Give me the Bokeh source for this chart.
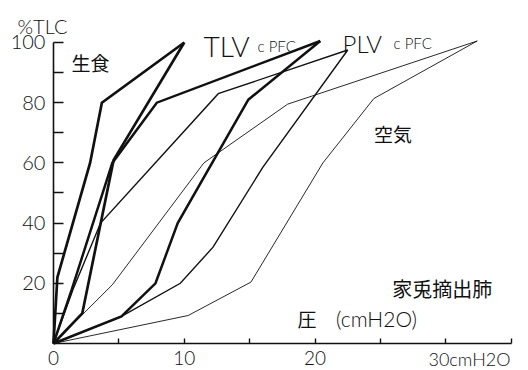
from bokeh.plotting import figure
from bokeh.models import FixedTicker, Label, LinearAxis, Range1d
from bokeh.embed import file_html
from bokeh.resources import INLINE

# ---- data (pressure cmH2O, volume %TLC) ----
saline_def_x = [0, 0.3, 2.8, 3.7, 10.0]
saline_def_y = [0, 22, 60, 80, 100]
saline_inf_x = [0, 2.2, 4.6, 10.0]
saline_inf_y = [0, 10, 61, 100]
tlv_def_x = [0, 1.4, 4.5, 7.9, 20.4]
tlv_def_y = [0, 18, 60, 80, 100.5]
tlv_inf_x = [0, 5.2, 7.8, 9.5, 14.9, 20.4]
tlv_inf_y = [0, 9, 20, 40, 81, 100.5]
plv_def_x = [0, 1.5, 3.6, 12.6, 22.5]
plv_def_y = [0, 18, 40, 83, 97.5]
plv_inf_x = [0, 5.2, 9.7, 12.2, 16.0, 22.5]
plv_inf_y = [0, 9, 20, 32, 58.5, 97.5]
air_def_x = [0, 4.5, 11.5, 17.9, 32.4]
air_def_y = [0, 19.5, 60, 79.5, 100.5]
air_inf_x = [0, 10.3, 15.1, 20.6, 24.5, 32.4]
air_inf_y = [0, 9.3, 20.4, 60, 81.4, 100.5]

y_ticks = [20, 40, 60, 80, 100]
y_minor = [10, 30, 50, 70, 90]
x_ticks = [0, 10, 20, 30]
x_minor = [5, 15, 25, 35]
x_tick_labels = {0: "0", 10: "10", 20: "20", 30: ""}

LAT = "Lato Light"
CJK = "Noto Sans CJK JP"
INK = "#111111"

p = figure(width=528, height=370,
           x_range=Range1d(-4.05, 36.32), y_range=Range1d(-8.97, 113.95),
           output_backend="svg", toolbar_location=None,
           x_axis_type=None, y_axis_type=None,
           min_border_left=0, min_border_right=0, min_border_top=0, min_border_bottom=0)
p.outline_line_color = None
p.background_fill_color = "white"
p.border_fill_color = "white"

yaxis = LinearAxis(fixed_location=0,
                   ticker=FixedTicker(ticks=y_ticks, minor_ticks=y_minor), bounds=(0, 100),
                   axis_line_width=1.6, axis_line_color=INK,
                   major_tick_in=10, major_tick_out=0, minor_tick_in=10, minor_tick_out=0,
                   major_tick_line_width=1.6, minor_tick_line_width=1.6,
                   major_tick_line_color=INK, minor_tick_line_color=INK,
                   major_label_standoff=8, major_label_text_font=LAT,
                   major_label_text_font_size="20px", major_label_text_color=INK)
p.add_layout(yaxis, "left")

xaxis = LinearAxis(fixed_location=0,
                   ticker=FixedTicker(ticks=x_ticks, minor_ticks=x_minor), bounds=(0, 35),
                   axis_line_width=1.6, axis_line_color=INK,
                   major_tick_in=5, major_tick_out=0, minor_tick_in=5, minor_tick_out=0,
                   major_tick_line_width=1.4, minor_tick_line_width=1.4,
                   major_tick_line_color=INK, minor_tick_line_color=INK,
                   major_label_overrides=x_tick_labels,
                   major_label_standoff=8, major_label_text_font=LAT,
                   major_label_text_font_size="19px", major_label_text_color=INK)
p.add_layout(xaxis, "below")

curves = [
    (air_inf_x, air_inf_y, 0.9),
    (air_def_x, air_def_y, 0.9),
    (plv_inf_x, plv_inf_y, 1.4),
    (plv_def_x, plv_def_y, 1.4),
    (tlv_inf_x, tlv_inf_y, 2.5),
    (tlv_def_x, tlv_def_y, 2.5),
    (saline_inf_x, saline_inf_y, 2.7),
    (saline_def_x, saline_def_y, 2.7),
]
for xs, ys, w in curves:
    p.line(xs, ys, line_color=INK, line_width=w, line_join="miter")

def lab(x, y, text, font, size, baseline="alphabetic"):
    p.add_layout(Label(x=x, y=y, text=text, text_font=font, text_font_size=size,
                       text_color=INK, text_align="left", text_baseline=baseline))

lab(-2.75, 105.4, "%TLC", LAT, "20px")
lab(1.38, 93.5, "生食", CJK, "19px", "middle")
lab(11.47, 99.0, "TLV", LAT, "28px")
lab(15.6, 99.0, "c PFC", LAT, "15px")
lab(22.1, 99.7, "PLV", LAT, "24px")
lab(26.0, 99.7, "c PFC", LAT, "15px")
lab(24.5, 69.8, "空気", CJK, "19px", "middle")
lab(25.9, 18.3, "家兎摘出肺", CJK, "20px", "middle")
lab(18.65, 8.3, "圧", CJK, "19px", "middle")
lab(21.6, 8.3, "(cmH2O)", LAT, "21px", "middle")
lab(28.67, -5.2, "30cmH2O", LAT, "18px", "middle")

open("out.html", "w").write(file_html(p, INLINE))
